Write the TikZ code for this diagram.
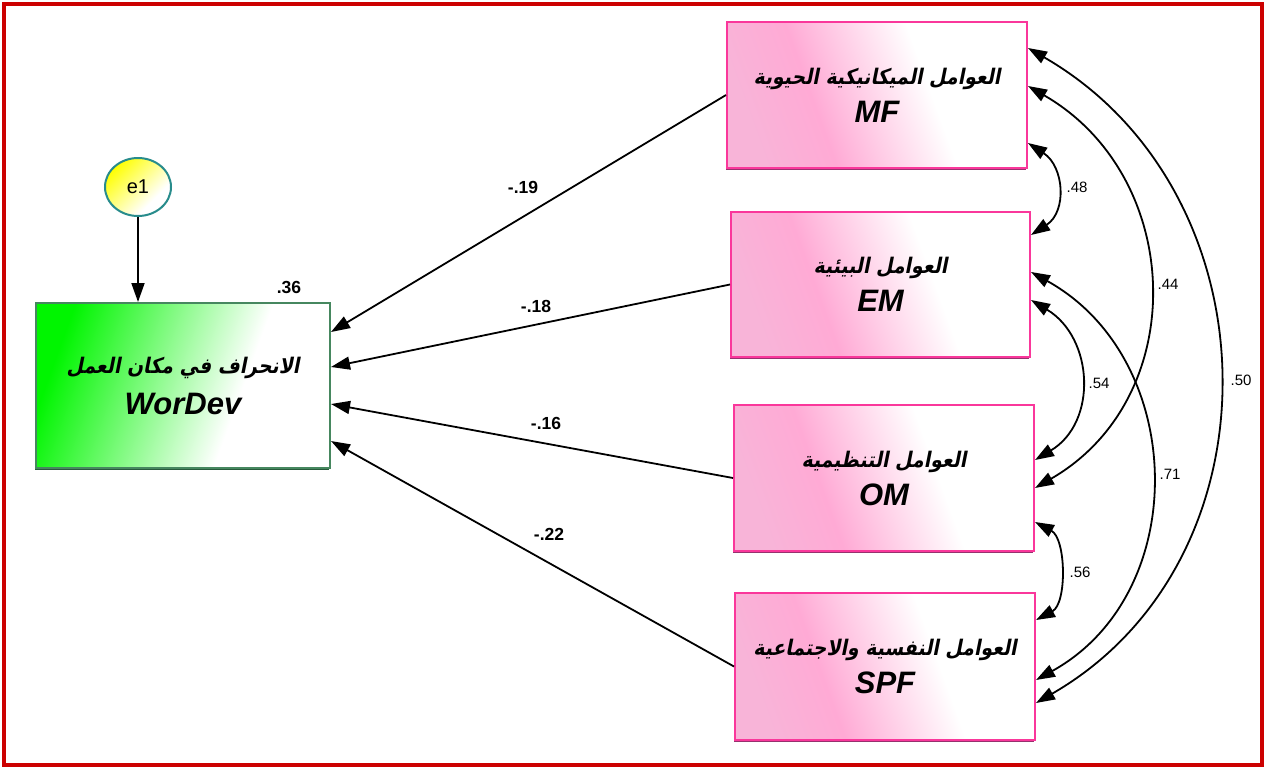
\documentclass[tikz,border=0pt]{standalone}
\usepackage{fontspec}
\setmainfont{Liberation Sans}
\newfontfamily\arabicfont[Script=Arabic,FakeSlant=0.2,FakeStretch=0.88]{DejaVu Sans}
\newfontfamily\numfont[Script=Latin]{Liberation Sans}
\TeXXeTstate=1
\usetikzlibrary{arrows.meta,shadows,calc,shapes.geometric}

\definecolor{framered}{RGB}{204,0,0}
\definecolor{boxpink}{RGB}{250,55,155}
\definecolor{fillpinkA}{RGB}{248,180,216}
\definecolor{fillpinkB}{RGB}{255,170,213}
\definecolor{shadowpink}{RGB}{150,50,110}
\definecolor{boxgreen}{RGB}{70,135,95}
\definecolor{fillgreen}{RGB}{0,245,0}
\definecolor{shadowgreen}{RGB}{40,90,60}
\definecolor{ringteal}{RGB}{40,140,140}
\definecolor{fillyellow}{RGB}{255,255,0}

% gradient fills of the boxes and the error ellipse
\pgfdeclarehorizontalshading{pinkfade}{100bp}{color(0bp)=(fillpinkA); color(25bp)=(fillpinkA); color(38bp)=(fillpinkB); color(60bp)=(white); color(100bp)=(white)}
\pgfdeclarehorizontalshading{greenfade}{100bp}{color(0bp)=(fillgreen); color(25bp)=(fillgreen); color(61bp)=(white); color(100bp)=(white)}
\pgfdeclarehorizontalshading{yellowfade}{100bp}{color(0bp)=(fillyellow); color(25bp)=(fillyellow); color(66bp)=(white); color(100bp)=(white)}

\newcommand\artext[1]{{\arabicfont\bfseries\fontsize{21.5}{38}\selectfont\beginR #1\endR}}
\newcommand\lattext[1]{{\bfseries\itshape\fontsize{31}{38}\selectfont #1}}

\begin{document}
\begin{tikzpicture}[x=1pt,y=1pt,
  factor/.style={draw=boxpink, line width=2pt, shading=pinkfade, shading angle=20,
    minimum width=300pt, minimum height=146pt, inner sep=0pt, align=center,
    font=\fontsize{30}{38}\selectfont,
    drop shadow={shadow xshift=-1.5pt, shadow yshift=-1.5pt, fill=shadowpink, opacity=1}},
  outcome/.style={draw=boxgreen, line width=2pt, shading=greenfade, shading angle=-20,
    minimum width=294pt, minimum height=165pt, inner sep=0pt, align=center,
    font=\fontsize{30}{41}\selectfont,
    drop shadow={shadow xshift=-1.5pt, shadow yshift=-1.5pt, fill=shadowgreen, opacity=1}},
  errorvar/.style={ellipse, draw=ringteal, line width=2pt, shading=yellowfade, shading angle=-45,
    minimum width=66pt, minimum height=58pt, inner sep=0pt, font=\numfont\fontsize{20}{24}\selectfont},
  regpath/.style={line width=1.8pt, -{Triangle[length=19pt,width=13pt]}},
  cov/.style={line width=1.8pt, {Triangle[length=19pt,width=13pt]}-{Triangle[length=19pt,width=13pt]}},
  plabel/.style={font=\numfont\bfseries\fontsize{17.5}{20}\selectfont, inner sep=0pt},
  clabel/.style={font=\numfont\fontsize{15}{18}\selectfont, inner sep=0pt}]

% canvas and red frame
\useasboundingbox (0,0) rectangle (1266,-769);
\fill[white] (0,0) rectangle (1266,-769);
\draw[framered, line width=3.5pt] (4,-4) rectangle (1262,-765);

% exogenous factors
\node[factor] (MF) at (877,-95) {\artext{العوامل الميكانيكية الحيوية}\\\lattext{MF}};
\node[factor, minimum width=299pt, minimum height=145pt] (EM) at (880.5,-284.5) {\artext{العوامل البيئية}\\\lattext{EM}};
\node[factor] (OM) at (884,-478) {\artext{العوامل التنظيمية}\\\lattext{OM}};
\node[factor, minimum height=147pt] (SPF) at (885,-666.5) {\artext{العوامل النفسية والاجتماعية}\\\lattext{SPF}};

% outcome and its error term
\node[outcome] (WorDev) at (183,-385.5) {\artext{الانحراف في مكان العمل}\\\lattext{WorDev}};
\node[errorvar] (e1) at (138,-187) {e1};
\draw[regpath] (e1.south) -- (e1.south |- WorDev.north);
\node[plabel] (r2) at (289,-287) {.36};

% regression paths
\draw[regpath] (MF.west) -- ($(WorDev.east)+(0,53.5)$);
\draw[regpath] (EM.west) -- ($(WorDev.east)+(0,18.5)$);
\draw[regpath] (OM.west) -- ($(WorDev.east)+(0,-18.5)$);
\draw[regpath] (SPF.west) -- ($(WorDev.east)+(0,-55.5)$);
\node[plabel] (b1) at (523,-187) {-.19};
\node[plabel] (b2) at (536,-306) {-.18};
\node[plabel] (b3) at (546,-423) {-.16};
\node[plabel] (b4) at (549,-534) {-.22};

% covariances
\draw[cov] ($(MF.east)+(0,-48)$) to[out=-33,in=33,looseness=1.2] ($(EM.east)+(0,49.5)$);
\draw[cov] ($(MF.east)+(0,9)$) to[out=-30,in=30,looseness=1.15] ($(OM.east)+(0,-10)$);
\draw[cov] ($(MF.east)+(0,47)$) to[out=-30,in=30,looseness=1.12] ($(SPF.east)+(0,-36.5)$);
\draw[cov] ($(EM.east)+(0,-15.5)$) to[out=-31,in=31,looseness=1.17] ($(OM.east)+(0,18)$);
\draw[cov] ($(EM.east)+(0,12.5)$) to[out=-29,in=29,looseness=1.12] ($(SPF.east)+(0,-13.5)$);
\draw[cov] ($(OM.east)+(0,-44)$) to[out=-28,in=28,looseness=0.92] ($(SPF.east)+(0,46.5)$);
\node[clabel] (c1) at (1077,-187) {.48};
\node[clabel] (c2) at (1168,-284) {.44};
\node[clabel] (c3) at (1099,-383) {.54};
\node[clabel] (c4) at (1241,-380) {.50};
\node[clabel] (c5) at (1170,-474) {.71};
\node[clabel] (c6) at (1080,-572) {.56};
\end{tikzpicture}
\end{document}
